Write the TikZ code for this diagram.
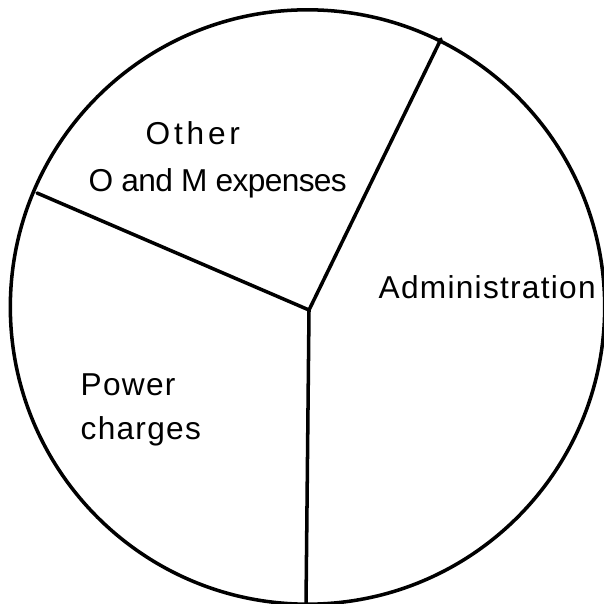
\documentclass[tikz,border=0pt]{standalone}
\usepackage{fontspec}
\usepackage{tikz}
\newfontfamily\widefont{Liberation Sans}[LetterSpace=4]
\newfontfamily\otherfont{Liberation Sans}[LetterSpace=12]
\newfontfamily\tightfont{Liberation Sans}[LetterSpace=-2]

\begin{document}
\begin{tikzpicture}[x=0.01cm, y=-0.01cm,
    edge/.style={line width=1pt, line cap=round},
    lbl/.style={anchor=base west, inner sep=0pt, font=\widefont\fontsize{9}{10}\selectfont}]
        \useasboundingbox (0,0) rectangle (604,604);

        % Define the points
        \coordinate (o) at (307.5,307);
        \coordinate (c) at (309,310);
        \coordinate (top) at (441,39);
        \coordinate (left) at (37,193);
        \coordinate (bottom) at (306,604);

        % Draw the pie
        \draw[edge] (o) circle[radius=2.97cm];
        \draw[edge] (top) -- (c) -- (bottom);
        \draw[edge] (left) -- (c);

        % Define the labels
        \node[lbl, font=\otherfont\fontsize{9}{10}\selectfont] (other) at (145,145) {Other};
        \node[lbl, font=\tightfont\fontsize{9}{10}\selectfont] (om) at (88,192) {O and M expenses};
        \node[lbl] (admin) at (378,299) {Administration};
        \node[lbl] (power) at (80,395) {Power};
        \node[lbl] (charges) at (80,439) {charges};
    \end{tikzpicture}
\end{document}
